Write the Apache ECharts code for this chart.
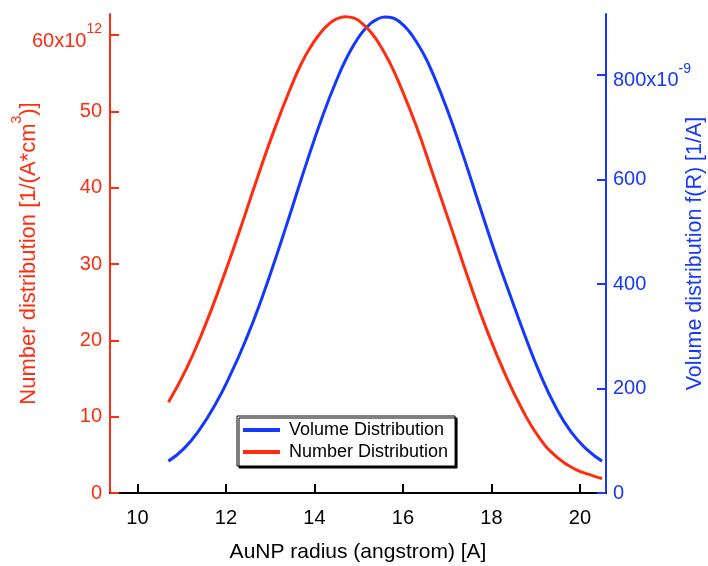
<!DOCTYPE html>
<html>
<head>
<meta charset="utf-8">
<script src="https://cdn.jsdelivr.net/npm/echarts@6/dist/echarts.min.js"></script>
<style>html,body{margin:0;padding:0;background:#fff;}#c{width:708px;height:566px;}</style>
</head>
<body>
<div id="c"></div>
<script>
// Data
const radiusNumber = [10.7, 11.1, 11.5, 11.9, 12.3, 12.7, 13.1, 13.5, 13.7, 13.9, 14.1, 14.3, 14.5, 14.7, 14.9, 15.1, 15.3, 15.5, 15.7, 15.9, 16.3, 16.7, 17.1, 17.5, 17.9, 18.3, 18.7, 19.1, 19.5, 19.9, 20.3, 20.5];
const numberDist = [11.9, 16.2, 21.5, 27.6, 34.2, 41.1, 47.7, 53.6, 56.2, 58.3, 60.0, 61.3, 62.1, 62.4, 62.2, 61.4, 60.2, 58.5, 56.4, 53.9, 48.1, 41.4, 34.6, 27.7, 21.3, 15.7, 10.9, 7.1, 4.6, 3.1, 2.25, 1.9];
const radiusVolume = [10.7, 11.05, 11.4, 11.75, 12.1, 12.45, 12.8, 13.15, 13.5, 13.85, 14.2, 14.55, 14.725, 14.9, 15.075, 15.25, 15.425, 15.6, 15.775, 15.95, 16.125, 16.3, 16.475, 16.65, 17.0, 17.35, 17.7, 18.05, 18.4, 18.75, 19.1, 19.45, 19.8, 20.15, 20.5];
const volumeDist = [61, 85, 121, 168, 226, 293, 370, 456, 547, 639, 725, 800, 832, 859, 881, 897, 907, 911, 909, 900, 885, 864, 839, 808, 734, 649, 558, 468, 384, 303, 228, 165, 117, 84, 61];
const xTicks = [10, 12, 14, 16, 18, 20];
const leftTicks = [0, 10, 20, 30, 40, 50, 60];
const rightTicks = [0, 200, 400, 600, 800];

const RED = '#ff2d10';
const BLUE = '#1538ff';
const FONT = '"Liberation Sans", Arial, Helvetica, sans-serif';

const chart = echarts.init(document.getElementById('c'), null, {renderer: 'canvas'});
const pairs = (xs, ys) => xs.map((x, i) => [x, ys[i]]);

function tickRich(color) {
  return {
    m: {fontSize: 20, color: color, fontFamily: FONT},
    n: {fontSize: 20, lineHeight: 20, color: color, fontFamily: FONT, padding: [12, 0, 0, 0]},
    s: {fontSize: 14, lineHeight: 20, color: color, fontFamily: FONT, padding: [0, 0, 12, 0]}
  };
}

chart.setOption({
  backgroundColor: '#fff',
  animation: false,
  textStyle: {fontFamily: FONT},
  grid: {left: 110, right: 102, top: 14, bottom: 73, containLabel: false, outerBoundsMode: 'none'},
  legend: {
    left: 237, top: 416,
    orient: 'vertical',
    data: ['Volume Distribution', 'Number Distribution'],
    backgroundColor: '#fff',
    borderColor: '#000', borderWidth: 1,
    shadowColor: '#000', shadowOffsetX: 2, shadowOffsetY: 2, shadowBlur: 0,
    padding: [4, 7, 4, 6],
    itemGap: 2,
    itemWidth: 37, itemHeight: 4,
    icon: 'rect',
    textStyle: {fontSize: 18, lineHeight: 20, color: '#000', fontFamily: FONT, padding: [0, 0, 0, 4]}
  },
  xAxis: [{
    type: 'value', min: 9.38, max: 20.59,
    offset: 4,
    name: 'AuNP radius (angstrom) [A]',
    nameLocation: 'middle', nameGap: 45, nameMoveOverlap: false,
    nameTextStyle: {fontSize: 21, color: '#000', fontFamily: FONT},
    axisLine: {show: true, lineStyle: {color: '#000', width: 2}},
    axisTick: {show: true, inside: true, length: 9, lineStyle: {color: '#000', width: 2}, customValues: xTicks},
    axisLabel: {color: '#000', fontSize: 20, margin: 11, customValues: xTicks, fontFamily: FONT},
    splitLine: {show: false}
  }, {
    type: 'value', min: 9.38, max: 20.59, position: 'top',
    axisLine: {show: true, lineStyle: {color: '#000', width: 2}},
    axisTick: {show: false}, axisLabel: {show: false}, splitLine: {show: false}
  }],
  yAxis: [{
    type: 'value', min: 0, max: 62.75, position: 'left',
    name: '{a|Number distribution [1/(A*cm}{s|3}{a|)]}',
    nameLocation: 'middle', nameGap: 76, nameMoveOverlap: false,
    nameTextStyle: {
      color: RED, fontSize: 22, fontFamily: FONT,
      rich: {
        a: {fontSize: 22, lineHeight: 22, color: RED, fontFamily: FONT, padding: [11, 0, 0, 0]},
        s: {fontSize: 14, lineHeight: 22, color: RED, fontFamily: FONT, padding: [0, 0, 11, 0]}
      }
    },
    axisLine: {show: true, lineStyle: {color: RED, width: 2}},
    axisTick: {show: true, inside: true, length: 9, lineStyle: {color: RED, width: 2}, customValues: leftTicks},
    axisLabel: {
      customValues: leftTicks, margin: 8,
      formatter: (v) => v === 60 ? '{n|60x10}{s|12}' : '{m|' + v + '}',
      rich: tickRich(RED)
    },
    splitLine: {show: false}
  }, {
    type: 'value', min: 0, max: 916.7, position: 'right',
    name: 'Volume distribution f(R) [1/A]',
    nameLocation: 'middle', nameGap: 78, nameMoveOverlap: false,
    nameTextStyle: {color: BLUE, fontSize: 21.5, fontFamily: FONT},
    axisLine: {show: true, lineStyle: {color: BLUE, width: 2}},
    axisTick: {show: true, inside: true, length: 9, lineStyle: {color: BLUE, width: 2}, customValues: rightTicks},
    axisLabel: {
      customValues: rightTicks, margin: 7,
      formatter: (v) => v === 800 ? '{n|800x10}{s|-9}' : '{m|' + v + '}',
      rich: tickRich(BLUE)
    },
    splitLine: {show: false}
  }],
  series: [{
    name: 'Volume Distribution', type: 'line', yAxisIndex: 1,
    data: pairs(radiusVolume, volumeDist), smooth: true, symbol: 'none',
    lineStyle: {color: BLUE, width: 3}, itemStyle: {color: BLUE}
  }, {
    name: 'Number Distribution', type: 'line', yAxisIndex: 0,
    data: pairs(radiusNumber, numberDist), smooth: true, symbol: 'none',
    lineStyle: {color: RED, width: 3}, itemStyle: {color: RED}
  }]
});
</script>
</body>
</html>
